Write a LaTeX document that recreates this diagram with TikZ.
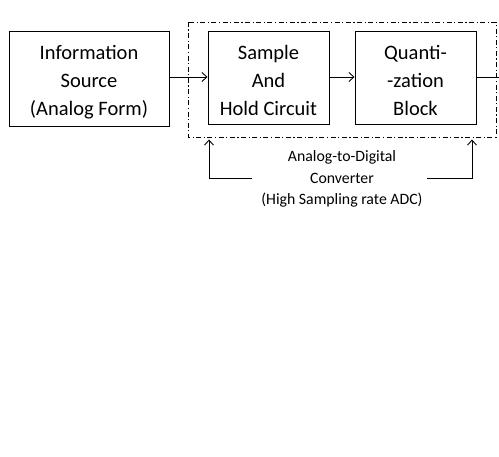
\documentclass[tikz,border=0pt]{standalone}
\usepackage{fontspec}
\setmainfont{Carlito}
\usetikzlibrary{arrows.meta}
\newcommand{\topstrut}{\rule{0pt}{21pt}}
\begin{document}
\begin{tikzpicture}[x=1pt,y=-1pt,
  blk/.style={draw,line width=0.9pt,align=center,inner sep=0pt,font=\fontsize{20.5}{28}\selectfont},
  conn/.style={line width=0.9pt},
  arr/.style={conn,-{Straight Barb[length=5pt,width=9pt,line width=0.9pt]}},
  note/.style={align=center,inner sep=0pt,font=\fontsize{15.8}{21.5}\selectfont}]
\useasboundingbox (0,0) rectangle (499,457);
\node[blk,minimum width=160pt,minimum height=95pt] (src) at (89,78.5) {\topstrut Information\\Source\\(Analog Form)};
\node[blk,minimum width=121pt,minimum height=93pt] (sh) at (268.5,77.5) {\topstrut Sample\\And\\Hold Circuit};
\node[blk,minimum width=121pt,minimum height=93pt] (qb) at (415.5,77.5) {\topstrut Quanti-\\-zation\\Block};
\draw[line width=0.9pt,dash pattern=on 5pt off 2.5pt on 1.2pt off 2.5pt] (188,22) rectangle (496,137);
\coordinate (out) at (499,77);
\draw[arr] (src.east |- 0,77) -- (sh.west |- 0,77);
\draw[arr] (sh.east |- 0,77) -- (qb.west |- 0,77);
\draw[conn] (qb.east |- 0,77) -- (out);
\node[note] (adc) at (342,179) {Analog-to-Digital\\Converter\\(High Sampling rate ADC)};
\coordinate (la) at (252,178);
\coordinate (lb) at (209,178);
\coordinate (lt) at (209,139.5);
\coordinate (ra) at (427,178);
\coordinate (rb) at (472,178);
\coordinate (rt) at (472,139.5);
\draw[arr] (la) -- (lb) -- (lt);
\draw[arr] (ra) -- (rb) -- (rt);
\end{tikzpicture}
\end{document}
